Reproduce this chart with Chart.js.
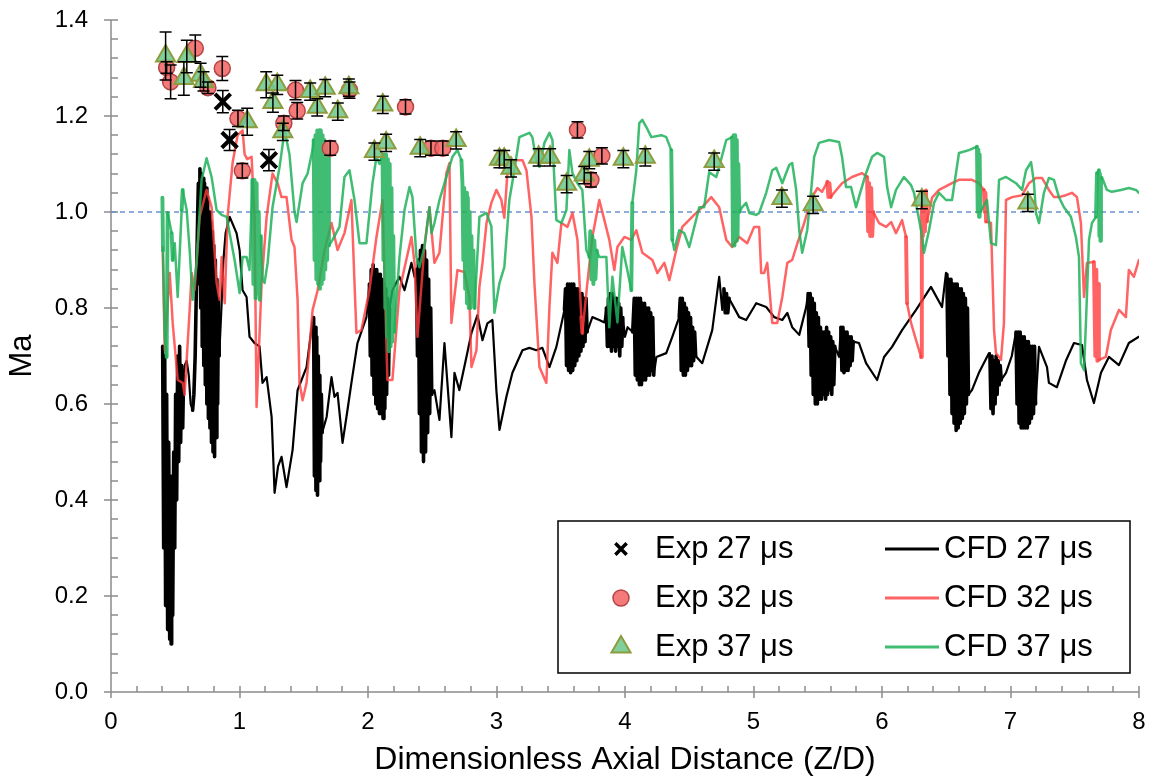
<!DOCTYPE html>
<html>
<head>
<meta charset="utf-8">
<script src="https://cdn.jsdelivr.net/npm/chart.js@4.4.1/dist/chart.umd.min.js"></script>
<style>
  html, body { margin: 0; padding: 0; background: #fff; }
  #wrap { width: 1154px; height: 780px; }
</style>
</head>
<body>
<div id="wrap"><canvas id="chart" width="1154" height="780"></canvas></div>
<script>
// Mach number along the jet axis: experiment (markers) vs CFD (lines)

const FONT = '"Liberation Sans", Arial, sans-serif';

// experiment points [Z/D, Ma] and their error half-widths
const exp27 = [[0.87, 1.23], [0.923, 1.15], [1.229, 1.108]];
const exp27Err = [0.023, 0.022, 0.022];

const exp32 = [
  [0.433, 1.301], [0.464, 1.271], [0.656, 1.341], [0.754, 1.259], [0.866, 1.299], [0.988, 1.195],
  [1.022, 1.086], [1.345, 1.185], [1.436, 1.254], [1.449, 1.211], [1.706, 1.133], [1.856, 1.254],
  [2.292, 1.219], [2.49, 1.133], [2.582, 1.133], [3.63, 1.171], [3.735, 1.067], [3.82, 1.117]
];
const exp32Err = [0.012, 0.035, 0.028, 0.012, 0.025, 0.017, 0.015, 0.015, 0.02, 0.017, 0.015, 0.017,
  0.015, 0.015, 0.015, 0.017, 0.015, 0.017];

const exp37 = [
  [0.425, 1.325], [0.567, 1.278], [0.59, 1.324], [0.697, 1.285], [0.72, 1.272], [1.06, 1.188],
  [1.208, 1.265], [1.26, 1.228], [1.294, 1.265], [1.337, 1.167], [1.55, 1.251], [1.605, 1.218],
  [1.667, 1.258], [1.765, 1.209], [1.851, 1.259], [2.05, 1.126], [2.115, 1.223], [2.141, 1.144],
  [2.406, 1.133], [2.686, 1.149], [3.023, 1.11], [3.06, 1.11], [3.113, 1.091], [3.328, 1.114],
  [3.417, 1.114], [3.546, 1.058], [3.683, 1.077], [3.722, 1.108], [3.987, 1.11], [4.158, 1.114],
  [4.694, 1.105], [5.221, 1.028], [5.464, 1.015], [6.31, 1.025], [7.135, 1.019]
];
const exp37Err = [0.05, 0.035, 0.034, 0.025, 0.02, 0.028, 0.027, 0.02, 0.02, 0.018, 0.018, 0.018,
  0.018, 0.018, 0.018, 0.018, 0.018, 0.018, 0.018, 0.018, 0.018, 0.018, 0.018, 0.018,
  0.018, 0.018, 0.018, 0.018, 0.018, 0.018, 0.018, 0.018, 0.018, 0.018, 0.018];

// CFD traces [Z/D, Ma]
const cfd27 = [
  [0.402,0.72],[0.41,0.30],[0.418,0.70],[0.425,0.18],[0.433,0.62],[0.441,0.13],[0.449,0.52],[0.457,0.11],
  [0.464,0.45],[0.468,0.10],[0.472,0.42],[0.48,0.16],[0.488,0.50],[0.496,0.30],[0.503,0.62],[0.511,0.40],
  [0.519,0.70],[0.527,0.48],[0.534,0.72],[0.542,0.52],[0.55,0.68],[0.558,0.55],[0.565,0.66],
  [0.573,0.68],[0.589,0.69],[0.605,0.66],[0.62,0.60],[0.635,0.587],[0.645,0.62],[0.655,0.70],[0.665,0.85],[0.675,1.0],
  [0.68,1.06],[0.686,0.85],[0.692,1.09],[0.698,0.80],[0.704,1.08],[0.71,0.72],[0.716,1.07],[0.722,0.68],
  [0.728,1.06],[0.734,0.64],[0.74,1.05],[0.746,0.60],[0.752,1.03],[0.758,0.57],[0.764,1.0],[0.77,0.55],
  [0.776,0.98],[0.782,0.52],[0.788,0.96],[0.794,0.50],[0.80,0.93],[0.806,0.49],[0.812,0.90],[0.818,0.53],
  [0.824,0.86],[0.83,0.60],[0.836,0.82],[0.842,0.70],
  [0.861,0.81],[0.875,0.90],[0.892,0.956],[0.923,0.99],[0.977,0.956],[1.001,0.92],[1.024,0.837],[1.055,0.823],
  [1.078,0.74],[1.117,0.727],[1.156,0.72],[1.179,0.644],[1.211,0.656],[1.25,0.573],[1.273,0.415],[1.30,0.47],
  [1.327,0.49],[1.366,0.427],[1.413,0.504],[1.452,0.629],[1.522,0.677],[1.569,0.775],
  [1.577,0.78],[1.583,0.45],[1.589,0.76],[1.595,0.42],[1.601,0.74],[1.607,0.41],[1.613,0.70],[1.619,0.44],
  [1.625,0.66],[1.631,0.48],[1.637,0.62],[1.643,0.54],
  [1.678,0.573],[1.716,0.656],[1.739,0.615],[1.763,0.623],[1.802,0.519],[1.84,0.587],[1.871,0.644],[1.918,0.727],[1.988,0.781],
  [2.011,0.85],[2.018,0.70],[2.025,0.88],[2.032,0.66],[2.04,0.89],[2.047,0.62],[2.054,0.88],[2.061,0.60],
  [2.068,0.88],[2.075,0.59],[2.082,0.87],[2.089,0.58],[2.096,0.87],[2.103,0.58],[2.11,0.86],[2.117,0.57],
  [2.124,0.85],[2.131,0.59],[2.138,0.84],[2.145,0.62],[2.152,0.82],[2.16,0.66],[2.167,0.80],
  [2.19,0.837],[2.245,0.865],[2.284,0.837],[2.338,0.894],[2.362,0.865],
  [2.377,0.88],[2.385,0.70],[2.392,0.90],[2.40,0.58],[2.408,0.92],[2.416,0.50],[2.424,0.93],[2.432,0.48],
  [2.44,0.92],[2.448,0.50],[2.456,0.90],[2.464,0.54],[2.472,0.86],[2.48,0.58],[2.488,0.80],[2.496,0.62],
  [2.517,0.629],[2.556,0.567],[2.595,0.727],[2.649,0.531],[2.673,0.665],[2.711,0.629],[2.766,0.698],[2.805,0.748],
  [2.852,0.785],[2.891,0.733],[2.929,0.768],[2.968,0.775],[2.999,0.629],[3.023,0.546],[3.077,0.615],[3.124,0.665],
  [3.202,0.712],[3.256,0.717],[3.31,0.712],[3.357,0.717],[3.412,0.677],[3.466,0.719],[3.529,0.796],
  [3.537,0.84],[3.545,0.68],[3.553,0.85],[3.561,0.67],[3.569,0.85],[3.577,0.665],[3.585,0.85],[3.593,0.67],
  [3.601,0.85],[3.609,0.68],[3.617,0.84],[3.625,0.69],[3.633,0.84],[3.641,0.70],[3.649,0.83],[3.657,0.71],
  [3.665,0.83],[3.673,0.72],[3.681,0.82],[3.689,0.73],[3.697,0.82],[3.705,0.75],
  [3.746,0.781],[3.80,0.775],[3.84,0.77],
  [3.855,0.80],[3.863,0.72],[3.871,0.82],[3.879,0.72],[3.887,0.83],[3.895,0.71],[3.903,0.83],[3.911,0.72],
  [3.919,0.82],[3.927,0.71],[3.935,0.82],[3.943,0.72],[3.951,0.81],[3.959,0.70],[3.967,0.80],[3.975,0.72],[3.983,0.78],
  [4.0,0.74],[4.02,0.76],[4.06,0.75],
  [4.072,0.82],[4.08,0.66],[4.088,0.82],[4.096,0.65],[4.104,0.82],[4.112,0.64],[4.12,0.82],[4.128,0.64],
  [4.136,0.81],[4.144,0.65],[4.152,0.81],[4.16,0.65],[4.168,0.80],[4.176,0.66],[4.184,0.80],[4.192,0.66],
  [4.2,0.79],[4.208,0.67],[4.216,0.78],[4.224,0.66],
  [4.244,0.698],[4.321,0.706],[4.368,0.74],[4.422,0.781],
  [4.43,0.82],[4.438,0.67],[4.446,0.82],[4.454,0.66],[4.462,0.81],[4.47,0.66],[4.478,0.80],[4.486,0.67],
  [4.494,0.79],[4.502,0.68],[4.51,0.78],[4.518,0.68],[4.526,0.76],[4.534,0.69],[4.542,0.75],[4.55,0.70],
  [4.601,0.685],[4.679,0.754],[4.733,0.865],[4.757,0.796],[4.77,0.84],[4.78,0.79],[4.79,0.83],[4.80,0.79],[4.81,0.82],
  [4.889,0.781],[4.943,0.775],[5.021,0.81],[5.099,0.802],[5.161,0.781],[5.224,0.775],[5.263,0.79],[5.301,0.76],
  [5.356,0.744],[5.41,0.802],
  [5.425,0.83],[5.433,0.72],[5.441,0.83],[5.449,0.66],[5.457,0.82],[5.465,0.62],[5.473,0.81],[5.481,0.60],
  [5.489,0.79],[5.497,0.60],[5.505,0.78],[5.513,0.61],[5.521,0.76],[5.529,0.61],[5.537,0.75],[5.545,0.62],
  [5.553,0.75],[5.561,0.61],[5.569,0.76],[5.577,0.62],[5.585,0.75],[5.593,0.63],[5.601,0.74],[5.609,0.62],
  [5.617,0.73],[5.625,0.64],[5.633,0.72],
  [5.666,0.698],
  [5.68,0.76],[5.688,0.67],[5.696,0.76],[5.704,0.665],[5.712,0.75],[5.72,0.67],[5.728,0.75],[5.736,0.67],
  [5.744,0.74],[5.752,0.68],[5.76,0.74],[5.768,0.69],[5.776,0.73],
  [5.821,0.727],[5.876,0.685],[5.962,0.65],[6.016,0.698],[6.078,0.719],[6.156,0.754],[6.265,0.796],[6.381,0.844],
  [6.467,0.802],[6.498,0.873],
  [6.505,0.87],[6.513,0.70],[6.521,0.86],[6.529,0.62],[6.537,0.86],[6.545,0.58],[6.553,0.85],[6.561,0.56],
  [6.569,0.85],[6.577,0.545],[6.585,0.85],[6.593,0.55],[6.601,0.84],[6.609,0.56],[6.617,0.84],[6.625,0.57],
  [6.633,0.83],[6.641,0.58],[6.649,0.82],[6.657,0.60],[6.665,0.80],[6.673,0.62],
  [6.70,0.629],[6.754,0.665],[6.833,0.706],
  [6.84,0.70],[6.848,0.59],[6.856,0.70],[6.864,0.58],[6.872,0.69],[6.88,0.60],[6.888,0.70],[6.896,0.62],
  [6.904,0.69],[6.912,0.64],[6.92,0.68],[6.928,0.65],
  [6.965,0.665],[7.01,0.70],
  [7.043,0.75],[7.051,0.60],[7.059,0.75],[7.067,0.56],[7.075,0.75],[7.083,0.55],[7.091,0.74],[7.099,0.55],
  [7.107,0.74],[7.115,0.55],[7.123,0.73],[7.131,0.55],[7.139,0.73],[7.147,0.56],[7.155,0.72],[7.163,0.57],
  [7.171,0.72],[7.179,0.58],[7.187,0.72],[7.195,0.60],
  [7.222,0.719],[7.284,0.677],[7.299,0.644],[7.361,0.635],[7.431,0.69],[7.494,0.727],[7.556,0.723],[7.595,0.65],
  [7.649,0.602],[7.704,0.665],[7.766,0.698],[7.844,0.681],[7.921,0.727],[7.999,0.74]
];

const cfd32 = [
  [0.402,0.927],[0.418,0.712],[0.457,0.873],[0.48,0.769],[0.519,0.65],[0.558,0.644],[0.573,0.619],[0.612,0.796],
  [0.628,0.873],[0.651,0.837],[0.69,0.99],[0.744,1.046],[0.783,1.01],[0.822,0.852],[0.845,0.817],[0.861,0.906],
  [0.885,0.81],[0.907,0.99],[0.946,1.102],[0.985,1.16],[1.024,1.17],[1.04,1.12],[1.06,1.11],[1.094,1.115],
  [1.117,0.99],[1.133,0.594],[1.172,0.852],[1.211,0.99],[1.257,1.08],[1.296,1.06],[1.327,1.031],[1.366,1.031],
  [1.405,0.942],[1.428,0.927],[1.452,0.817],[1.467,0.644],[1.491,0.608],[1.522,0.644],[1.569,0.796],[1.608,0.837],
  [1.662,0.921],[1.716,0.977],[1.763,0.921],[1.817,0.956],[1.871,1.025],[1.895,0.852],[1.91,0.748],[1.949,0.754],
  [2.011,0.837],[2.066,0.948],[2.113,1.025],[2.151,0.65],[2.19,0.65],[2.245,0.837],[2.338,0.948],[2.362,0.894],
  [2.385,0.74],[2.439,0.927],[2.478,1.01],[2.517,0.894],[2.556,0.915],[2.61,1.081],[2.634,1.102],[2.649,0.769],
  [2.696,0.879],[2.75,0.875],[2.789,0.823],[2.805,0.677],[2.844,0.712],[2.867,0.844],[2.891,0.894],[2.922,0.977],
  [2.96,1.019],[2.999,1.046],[3.038,1.025],[3.061,0.988],[3.085,1.081],[3.124,1.108],[3.202,1.108],[3.233,1.087],
  [3.272,0.99],[3.295,0.852],[3.334,0.677],[3.388,0.644],[3.412,0.802],[3.435,0.915],[3.474,0.894],[3.505,0.977],
  [3.552,0.969],[3.591,0.998],[3.63,0.942],[3.66,0.781],[3.668,0.748],[3.707,0.852],[3.746,0.948],[3.80,1.025],
  [3.878,0.942],[3.917,0.879],[3.941,0.927],[3.995,0.948],[4.049,0.942],[4.088,0.962],[4.135,0.915],[4.213,0.9],
  [4.252,0.873],[4.306,0.894],[4.345,0.858],[4.399,0.921],[4.446,0.969],[4.523,0.99],[4.601,1.01],[4.671,1.031],
  [4.733,1.01],[4.788,0.942],[4.834,0.927],[4.889,0.948],[4.951,0.935],[5.005,0.969],[5.044,0.969],[5.06,0.873],
  [5.083,0.873],[5.107,0.894],[5.146,0.769],[5.185,0.769],[5.224,0.823],[5.263,0.894],[5.301,0.9],[5.342,0.935],
  [5.394,0.977],[5.456,1.031],[5.498,1.05],[5.533,1.042],[5.575,1.063],[5.583,1.031],[5.591,1.06],[5.6,1.031],
  [5.627,1.04],[5.689,1.06],[5.767,1.073],[5.845,1.081],[5.884,1.073],[5.892,0.96],[5.90,1.06],[5.908,0.95],
  [5.916,1.05],[5.924,0.95],[5.932,1.0],[5.977,0.977],[6.032,0.969],[6.071,0.979],[6.109,0.956],[6.156,0.983],
  [6.187,0.948],[6.195,0.81],[6.226,0.769],[6.265,0.733],[6.304,0.698],[6.31,1.02],[6.318,0.95],[6.326,1.04],
  [6.334,0.96],[6.342,1.045],[6.35,0.98],[6.39,1.03],[6.444,1.046],[6.545,1.06],[6.599,1.067],[6.70,1.067],
  [6.754,1.06],[6.793,1.046],[6.80,1.0],[6.805,1.04],[6.81,0.98],[6.848,0.977],[6.872,0.754],[6.887,0.706],
  [6.926,0.692],[6.949,0.769],[6.965,1.025],[7.012,1.031],[7.09,1.035],[7.144,1.06],[7.198,1.071],[7.245,1.071],
  [7.299,1.046],[7.338,1.031],[7.377,1.031],[7.431,1.035],[7.478,1.04],[7.517,1.031],[7.548,0.977],[7.572,0.823],
  [7.595,0.894],[7.649,0.896],[7.66,0.70],[7.668,0.88],[7.676,0.69],[7.684,0.85],[7.688,0.692],[7.742,0.698],
  [7.781,0.754],[7.844,0.796],[7.898,0.781],[7.921,0.879],[7.96,0.865],[7.999,0.9]
];

const cfd37 = [
  [0.400,1.03],[0.405,0.92],[0.418,0.74],[0.433,0.698],[0.441,0.998],[0.472,0.956],[0.48,0.9],[0.496,0.935],
  [0.519,0.823],[0.55,1.004],[0.558,1.046],[0.589,1.004],[0.612,0.921],[0.635,0.817],[0.666,0.894],[0.705,1.067],
  [0.744,1.112],[0.783,1.073],[0.822,1.004],[0.861,0.994],[0.9,0.99],[0.923,0.956],[0.962,0.9],[1.001,0.831],
  [1.024,0.906],[1.055,0.906],[1.078,0.879],
  [1.10,1.067],[1.108,0.85],[1.117,1.067],[1.125,0.82],[1.133,1.06],[1.141,0.83],[1.15,1.0],[1.158,0.817],
  [1.166,0.95],[1.18,0.86],[1.195,0.852],[1.219,0.894],[1.257,1.01],[1.312,1.094],[1.351,1.17],[1.389,1.12],
  [1.428,1.0],[1.444,0.979],[1.491,1.06],[1.53,1.08],[1.569,1.13],
  [1.577,1.15],[1.584,0.90],[1.591,1.16],[1.598,0.86],[1.605,1.17],[1.612,0.85],[1.619,1.17],[1.626,0.84],
  [1.633,1.17],[1.64,0.85],[1.647,1.16],[1.654,0.86],[1.661,1.15],[1.668,0.88],[1.675,1.14],[1.682,0.90],
  [1.689,1.12],[1.696,0.93],
  [1.724,0.942],[1.778,0.969],[1.817,1.073],[1.856,1.087],[1.895,1.025],[1.934,0.935],[1.988,0.935],[2.035,1.06],
  [2.066,1.115],[2.09,1.10],
  [2.113,1.12],[2.12,0.90],[2.127,1.12],[2.134,0.80],[2.141,1.12],[2.148,0.74],[2.155,1.11],[2.162,0.71],
  [2.169,1.10],[2.176,0.72],[2.183,1.05],[2.19,0.73],[2.197,0.95],[2.204,0.75],
  [2.245,0.906],[2.284,1.004],[2.323,1.052],[2.346,1.031],[2.377,0.906],[2.40,0.885],[2.439,0.927],[2.478,1.01],
  [2.494,0.956],[2.517,0.977],[2.556,1.025],[2.61,1.073],[2.657,1.115],[2.696,1.129],[2.727,1.108],
  [2.735,1.06],[2.742,0.90],[2.749,1.05],[2.756,0.84],[2.763,1.04],[2.77,0.81],[2.777,1.03],[2.784,0.80],
  [2.791,1.0],[2.798,0.80],[2.805,0.95],[2.812,0.82],[2.82,0.92],[2.83,0.80],
  [2.867,0.99],[2.922,0.998],[2.96,0.97],[2.984,0.79],[3.023,0.852],[3.061,0.885],[3.10,1.025],[3.139,1.087],
  [3.178,1.156],[3.256,1.165],[3.279,1.156],[3.31,1.108],[3.334,1.094],[3.373,1.144],[3.412,1.165],[3.435,1.15],
  [3.466,0.983],[3.505,0.977],[3.544,1.004],[3.567,1.129],[3.591,1.081],[3.63,1.06],[3.668,1.046],[3.699,0.921],
  [3.723,0.906],
  [3.73,0.96],[3.738,0.86],[3.746,0.95],[3.754,0.85],[3.762,0.94],[3.77,0.86],[3.78,0.92],
  [3.80,0.906],[3.855,0.906],[3.878,0.76],[3.902,0.865],[3.941,0.77],[3.979,0.927],[4.018,0.879],[4.049,0.837],
  [4.057,1.019],[4.088,1.087],[4.111,1.185],[4.135,1.192],[4.166,1.177],[4.205,1.156],[4.283,1.16],[4.321,1.156],
  [4.36,1.129],[4.368,0.942],[4.384,0.921],[4.422,0.962],[4.461,0.956],[4.50,0.927],[4.578,1.01],[4.616,1.01],
  [4.655,1.083],[4.71,1.073],[4.733,1.094],[4.788,1.15],[4.834,1.156],
  [4.84,0.93],[4.846,1.16],[4.852,0.93],[4.858,1.16],[4.864,0.94],[4.87,1.15],[4.876,0.95],[4.882,1.1],[4.889,1.0],
  [4.912,1.01],[4.943,1.019],[4.967,0.998],[5.021,0.994],[5.044,0.998],[5.099,1.04],[5.146,1.087],[5.177,1.092],
  [5.224,1.06],[5.278,1.098],[5.301,1.102],[5.332,1.046],[5.356,0.962],[5.379,0.915],[5.418,0.962],[5.449,1.046],
  [5.472,1.115],[5.51,1.144],[5.588,1.15],[5.666,1.146],[5.689,1.115],[5.72,1.052],[5.759,1.052],[5.798,1.01],
  [5.837,1.046],[5.876,1.081],[5.923,1.115],[5.962,1.123],[6.016,1.115],[6.04,1.052],[6.071,1.01],[6.109,1.046],
  [6.171,1.073],[6.226,1.056],[6.249,1.04],[6.304,0.962],[6.327,0.915],[6.366,0.962],[6.405,1.019],[6.444,1.04],
  [6.498,1.025],[6.545,1.025],[6.599,1.123],[6.677,1.129],[6.739,1.136],
  [6.745,1.0],[6.75,1.13],[6.755,0.99],[6.76,1.12],[6.765,1.0],
  [6.817,1.025],[6.848,0.935],[6.887,0.931],[6.911,1.067],[6.965,1.073],[7.043,1.06],[7.09,1.046],[7.121,1.087],
  [7.16,1.104],[7.183,1.06],[7.198,0.998],[7.222,0.977],[7.26,1.04],[7.299,1.071],[7.338,1.067],[7.377,1.031],
  [7.416,1.01],[7.47,0.99],[7.509,0.948],[7.533,0.906],[7.548,0.685],[7.572,0.671],[7.587,0.769],[7.611,0.942],
  [7.634,0.977],[7.665,0.99],[7.673,1.081],[7.688,1.087],
  [7.692,0.95],[7.696,1.08],[7.70,0.94],[7.704,1.07],
  [7.711,1.073],[7.75,1.046],[7.789,1.042],[7.859,1.046],[7.921,1.05],[7.976,1.046],[7.999,1.04]
];

// sonic reference line
const sonicLine = [[0, 1], [8, 1]];

const legendPairs = [
  ['Exp 27 μs', 'CFD 27 μs'],
  ['Exp 32 μs', 'CFD 32 μs'],
  ['Exp 37 μs', 'CFD 37 μs']
];

const toXY = arr => arr.map(([x, y]) => ({ x, y }));

function drawMarker(ctx, ds, r, w, x, y) {
  ctx.fillStyle = ds.backgroundColor;
  ctx.strokeStyle = ds.borderColor;
  ctx.lineWidth = w;
  Chart.helpers.drawPoint(ctx, { pointStyle: ds.pointStyle, radius: r, rotation: 0, borderWidth: w }, x, y);
}

// gray axis lines with major and minor tick marks
const axisLines = {
  id: 'axisLines',
  beforeDatasetsDraw(chart) {
    const { ctx, chartArea: a, scales: { x, y } } = chart;
    ctx.save();
    ctx.strokeStyle = '#8c8c8c';
    ctx.lineWidth = 1.5;
    ctx.beginPath();
    ctx.moveTo(a.left, a.top);
    ctx.lineTo(a.left, a.bottom);
    ctx.lineTo(a.right, a.bottom);
    for (let i = 0; i <= 40; i++) {
      const px = Math.round(x.getPixelForValue(i * 0.2));
      ctx.moveTo(px, a.bottom - 6);
      ctx.lineTo(px, i % 5 === 0 ? a.bottom + 6 : a.bottom);
    }
    for (let i = 0; i <= 35; i++) {
      const py = Math.round(y.getPixelForValue(i * 0.04));
      ctx.moveTo(i % 5 === 0 ? a.left - 7 : a.left, py);
      ctx.lineTo(a.left + 7, py);
    }
    ctx.stroke();
    ctx.restore();
  }
};

// vertical error bars with caps
const errorBars = {
  id: 'errorBars',
  afterDatasetsDraw(chart) {
    const { ctx, scales: { x, y } } = chart;
    ctx.save();
    ctx.strokeStyle = '#000';
    ctx.lineWidth = 1.5;
    chart.data.datasets.forEach(ds => {
      if (!ds.errors) return;
      ds.data.forEach((p, j) => {
        const e = ds.errors[j];
        const px = x.getPixelForValue(p.x);
        const top = y.getPixelForValue(p.y + e);
        const bot = y.getPixelForValue(p.y - e);
        ctx.beginPath();
        ctx.moveTo(px, top); ctx.lineTo(px, bot);
        ctx.moveTo(px - 6, top); ctx.lineTo(px + 6, top);
        ctx.moveTo(px - 6, bot); ctx.lineTo(px + 6, bot);
        ctx.stroke();
      });
    });
    ctx.restore();
  }
};

// boxed two-column legend in the lower right
const boxLegend = {
  id: 'boxLegend',
  afterDraw(chart) {
    const { ctx, chartArea: a } = chart;
    const sets = chart.data.datasets;
    const left = a.right - 581, right = a.right - 9;
    const top = a.bottom - 171, bottom = a.bottom - 19;
    ctx.save();
    ctx.fillStyle = '#fff';
    ctx.fillRect(left, top, right - left, bottom - top);
    ctx.strokeStyle = '#000';
    ctx.lineWidth = 1.5;
    ctx.strokeRect(left, top, right - left, bottom - top);
    ctx.font = '31px ' + FONT;
    ctx.textBaseline = 'middle';
    ctx.textAlign = 'left';
    legendPairs.forEach(([expLabel, cfdLabel], row) => {
      const yy = top + 28 + row * 49;
      const e = sets.find(d => d.label === expLabel);
      const c = sets.find(d => d.label === cfdLabel);
      drawMarker(ctx, e, e.legendRadius, e.legendBorder, left + 63, yy);
      ctx.fillStyle = '#000';
      ctx.fillText(expLabel, left + 97, yy);
      ctx.strokeStyle = c.borderColor;
      ctx.lineWidth = 3;
      ctx.beginPath();
      ctx.moveTo(left + 327, yy);
      ctx.lineTo(left + 381, yy);
      ctx.stroke();
      ctx.fillStyle = '#000';
      ctx.fillText(cfdLabel, left + 386, yy);
    });
    ctx.restore();
  }
};

// steep back-and-forth segments (the oscillating zones) get a heavier pen so they read as solid bands
const lineSet = (label, data, color, width, order) => ({
  label, data: toXY(data), showLine: true, borderColor: color, borderWidth: width,
  borderJoinStyle: 'round', borderCapStyle: 'round',
  segment: { borderWidth: c => (Math.abs(c.p1.x - c.p0.x) < 1.6 && Math.abs(c.p1.y - c.p0.y) > 12) ? width + 1.4 : undefined },
  pointRadius: 0, pointHoverRadius: 0, tension: 0, fill: false, order
});

new Chart(document.getElementById('chart').getContext('2d'), {
  type: 'scatter',
  data: {
    datasets: [
      {
        label: 'Exp 37 μs', data: toXY(exp37), errors: exp37Err, pointStyle: 'triangle',
        pointRadius: 11, legendRadius: 11, legendBorder: 2,
        backgroundColor: 'rgba(112,202,142,0.88)', borderColor: '#8e9b3e', borderWidth: 2, order: 1
      },
      {
        label: 'Exp 32 μs', data: toXY(exp32), errors: exp32Err, pointStyle: 'circle',
        pointRadius: 8, legendRadius: 8, legendBorder: 1.5,
        backgroundColor: 'rgba(242,104,104,0.88)', borderColor: '#b34545', borderWidth: 1.5, order: 2
      },
      {
        label: 'Exp 27 μs', data: toXY(exp27), errors: exp27Err, pointStyle: 'crossRot',
        pointRadius: 11, legendRadius: 8, legendBorder: 3.5,
        backgroundColor: '#000', borderColor: '#000', borderWidth: 4, order: 3
      },
      lineSet('CFD 37 μs', cfd37, 'rgba(30,178,90,0.85)', 2.5, 4),
      lineSet('CFD 32 μs', cfd32, 'rgba(255,60,60,0.8)', 2.5, 5),
      lineSet('CFD 27 μs', cfd27, '#000', 2.2, 6),
      {
        label: 'sonic', data: toXY(sonicLine), showLine: true, borderColor: '#6a93d0',
        borderWidth: 1.3, borderDash: [5, 4], pointRadius: 0, order: 7
      }
    ]
  },
  options: {
    responsive: false,
    animation: false,
    layout: { padding: { top: 20, right: 14, left: 0, bottom: 0 } },
    plugins: { legend: { display: false }, tooltip: { enabled: false } },
    scales: {
      x: {
        type: 'linear', min: 0, max: 8,
        afterFit: s => { s.height = 88; s.paddingLeft = 0; s.paddingRight = 0; },
        grid: { display: false, drawTicks: false },
        border: { display: false },
        ticks: { stepSize: 1, color: '#000', padding: 16, font: { size: 24, family: FONT } },
        title: {
          display: true, text: 'Dimensionless Axial Distance (Z/D)', color: '#000',
          font: { size: 32, family: FONT }, padding: { top: 0, bottom: 1 }
        }
      },
      y: {
        type: 'linear', min: 0, max: 1.4,
        afterFit: s => { s.width = 111; s.paddingTop = 0; s.paddingBottom = 0; },
        grid: { display: false, drawTicks: false },
        border: { display: false },
        ticks: { stepSize: 0.2, color: '#000', padding: 23, font: { size: 24, family: FONT },
          callback: v => v.toFixed(1) },
        title: {
          display: true, text: 'Ma', color: '#000',
          font: { size: 31, family: FONT }, padding: { top: 4, bottom: 0 }
        }
      }
    }
  },
  plugins: [axisLines, errorBars, boxLegend]
});
</script>
</body>
</html>
